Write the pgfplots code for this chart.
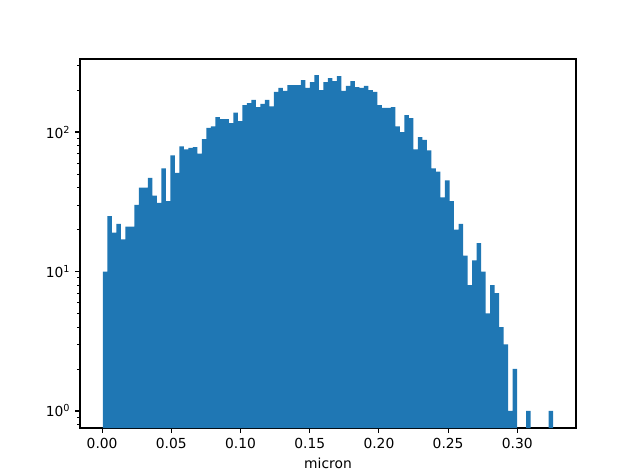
\documentclass[border=0pt]{standalone}
\usepackage{fontspec}
\setmainfont{DejaVu Sans}
\usepackage{pgfplots}
\pgfplotsset{compat=1.18}
\definecolor{tabblue}{HTML}{1F77B4}

\begin{document}
\fontsize{10}{12}\selectfont
\begin{tikzpicture}
% canvas: 640x480 px at 0.7227pt per px, axis box at (0,0)
\useasboundingbox (-57.82pt,-33.96pt) rectangle (404.71pt,309.32pt);
\begin{axis}[at={(0,0)},anchor=south west,
 scale only axis,width=358.46pt,height=266.68pt,
 ymode=log,log origin=infty,
 xmin=-0.0160,xmax=0.3424,ymin=0.755,ymax=334,
 axis line style={line width=0.8pt},
 tick align=outside,xtick pos=left,ytick pos=left,
 major tick length=3.5pt,minor tick length=2pt,
 every tick/.style={black,line width=0.8pt},
 minor tick style={line width=0.6pt},
 xtick={0,0.05,0.10,0.15,0.20,0.25,0.30},
 xticklabel style={/pgf/number format/.cd,fixed,fixed zerofill,precision=2,assume math mode=true},
 ytick={1,10,100},
 yticklabels={10\textsuperscript{0},10\textsuperscript{1},10\textsuperscript{2}},
 minor ytick={0.8,0.9,2,3,4,5,6,7,8,9,20,30,40,50,60,70,80,90,200,300},
 xlabel={micron},
 tick label style={font=\fontsize{10}{12}\selectfont},
 label style={font=\fontsize{10}{12}\selectfont},
 ybar,bar width=0.003253]
 \addplot[fill=tabblue,draw=none] coordinates {
 (0.00213,10) (0.00538,25) (0.00863,19) (0.01189,22) (0.01514,17)
 (0.01839,21) (0.02164,21) (0.02490,30) (0.02815,40) (0.03140,40)
 (0.03466,47) (0.03791,35) (0.04116,31) (0.04442,55) (0.04767,32)
 (0.05092,68) (0.05418,51) (0.05743,79) (0.06068,75) (0.06393,77)
 (0.06719,78) (0.07044,70) (0.07369,89) (0.07695,107) (0.08020,110)
 (0.08345,128) (0.08671,124) (0.08996,124) (0.09321,116) (0.09647,138)
 (0.09972,120) (0.10297,156) (0.10622,161) (0.10948,170) (0.11273,151)
 (0.11598,159) (0.11924,170) (0.12249,153) (0.12574,194) (0.12900,207)
 (0.13225,197) (0.13550,217) (0.13876,217) (0.14201,217) (0.14526,236)
 (0.14851,207) (0.15177,228) (0.15502,256) (0.15827,200) (0.16153,228)
 (0.16478,244) (0.16803,232) (0.17129,252) (0.17454,197) (0.17779,214)
 (0.18105,232) (0.18430,210) (0.18755,207) (0.19080,214) (0.19406,200)
 (0.19731,194) (0.20056,156) (0.20382,149) (0.20707,149) (0.21032,151)
 (0.21358,110) (0.21683,100) (0.22008,132) (0.22334,126) (0.22659,75)
 (0.22984,92) (0.23309,88) (0.23635,74) (0.23960,55) (0.24285,52)
 (0.24611,34) (0.24936,45) (0.25261,32) (0.25587,20) (0.25912,22)
 (0.26237,13) (0.26563,8) (0.26888,12) (0.27213,16) (0.27538,10)
 (0.27864,5) (0.28189,8) (0.28514,7) (0.28840,4) (0.29165,3)
 (0.29490,1) (0.29816,2) (0.30792,1) (0.32418,1)
 };
\end{axis}
\end{tikzpicture}
\end{document}
